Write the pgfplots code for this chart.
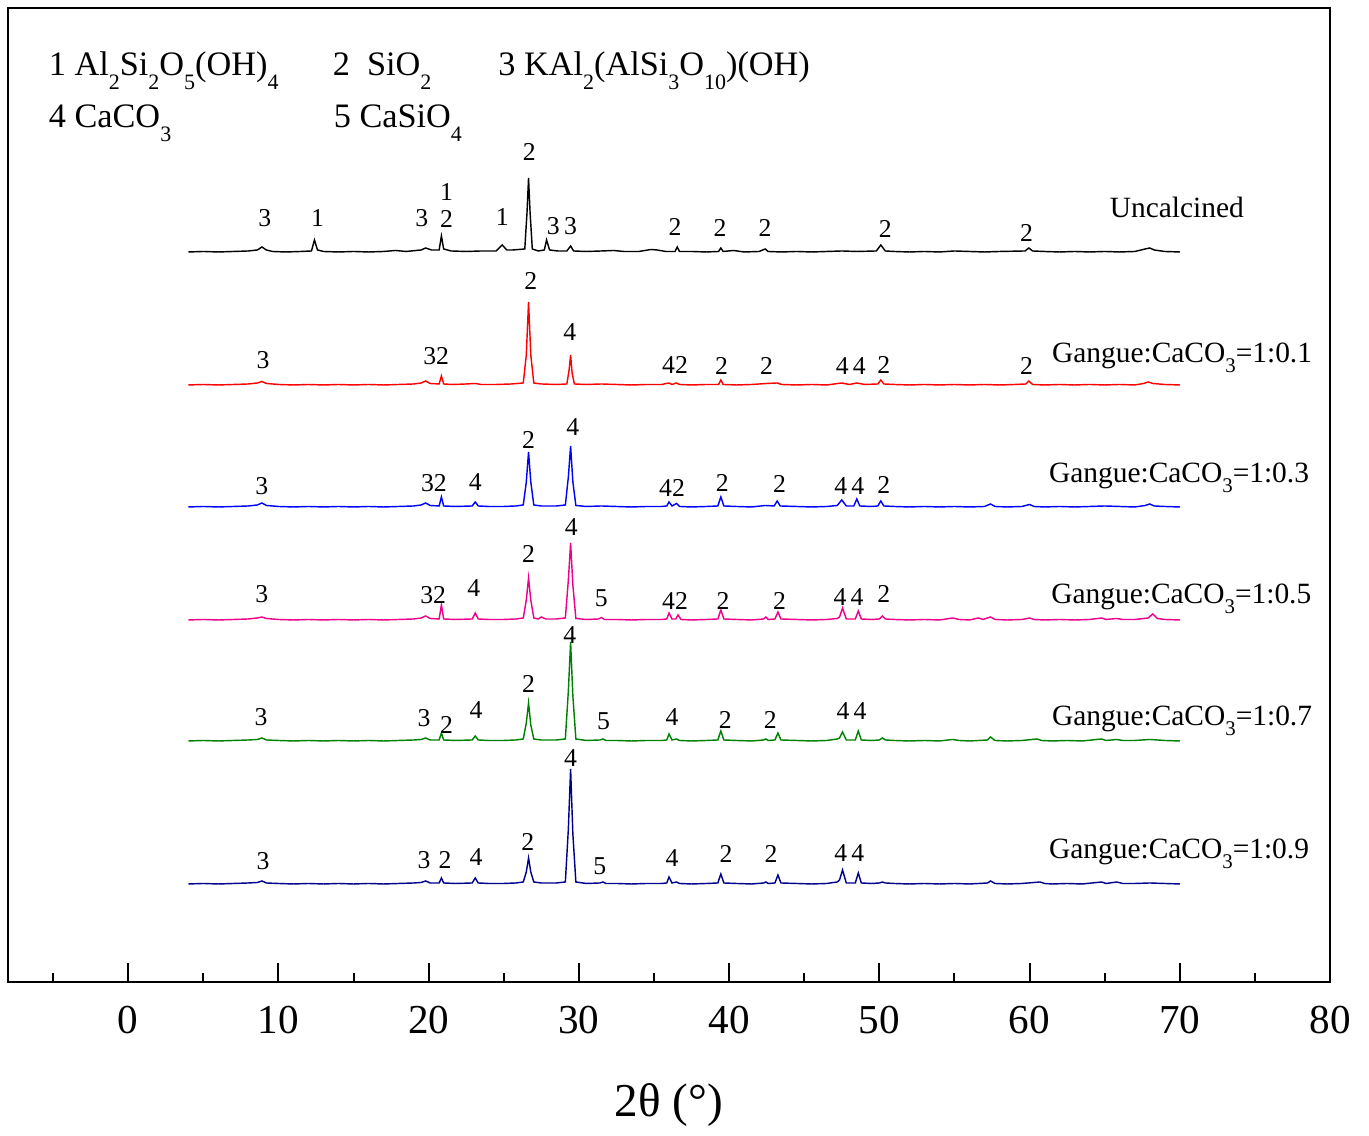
\documentclass[border=0pt]{standalone}
\usepackage{fontspec}
\setmainfont{Liberation Serif}
\usepackage{pgfplots}
\pgfplotsset{compat=1.18}
\usepackage{pgfplotstable}

\definecolor{cgreen}{RGB}{0,128,0}
\definecolor{cnavy}{RGB}{0,0,140}
\newcommand\lsub[1]{\raisebox{-4.9pt}{\fontsize{7.7}{7.7}\selectfont #1}}
\newcommand\gsub[1]{\raisebox{-3.5pt}{\fontsize{7.3}{7.3}\selectfont #1}}
\tikzset{
  pk/.style={font=\fontsize{9}{9}\selectfont, inner sep=0pt, anchor=center},
  lb/.style={font=\fontsize{10.3}{10.3}\selectfont, inner sep=0pt, anchor=base},
  lg/.style={font=\fontsize{12}{12}\selectfont, inner sep=0pt, anchor=base west},
}

\pgfplotstableread{
x I
4 0
5 0.5
6 0
7 0.5
8 1
8.6 2
8.9 5
9.2 2
9.6 0.5
10.5 0
11.5 0.5
12.2 1
12.4 12
12.6 2
13 0.5
14 0
15 0.5
16 0
17 0.5
17.8 1.5
18.5 0.5
19.5 2
19.8 4
20.2 2
20.7 2
20.85 16
21.0 3
21.5 1
22.5 0.5
23.5 1
24.5 1
24.9 7
25.2 2
25.6 2
26.4 3
26.55 40
26.65 74
26.75 40
26.9 3
27.3 1
27.7 2
27.85 12
28.05 2
28.6 1
29.2 1
29.45 6
29.65 1
30.5 0.5
31.5 1
32.3 1.5
33 0.5
34 0.5
34.8 2.5
35.2 2
35.8 0.5
36.4 0.5
36.55 5
36.7 0.5
37.5 0.5
38.5 0
39.3 0.5
39.45 4
39.6 0.5
40.3 1.5
41 0
42 0.5
42.4 3
42.6 0.5
43.5 0
44.5 0.5
45.5 0
46.5 0.5
47.5 1
48.5 0.5
49.8 1
50.1 7
50.4 1
51 0.5
52 0
53 0.5
54 0
55 1
56 0.5
57 0
58 0.5
59.7 1
59.95 4
60.2 1
61 0.5
62 0
63 0.5
64 0
65 0.5
66 0
67 0.5
67.7 3
68 4
68.3 2
69 0.5
70 0
}\uncal

\pgfplotstableread{
x I
4 0
5 0.5
6 0
7 0.5
8 1
8.6 2
8.9 3.5
9.2 1.5
10 0.5
11 0
12 0.5
13 0
14 0.5
15 0
16 0.5
17 0
18 0.5
19 1
19.5 2
19.8 4
20.1 1.5
20.7 1
20.85 9
21.0 1
21.6 0.5
22.5 1
23.1 1.5
23.5 0.5
24.5 0.5
25.5 1
26.3 2
26.5 30
26.65 83
26.8 30
27 2
27.5 1
28.5 0.5
29.2 1
29.35 15
29.45 30
29.55 12
29.7 1
30.5 0.5
31.5 1
32.5 0.5
33.5 0
34.5 0.5
35.5 0.5
36.0 2
36.2 0.5
36.5 2
36.7 0.5
37.5 0
38.5 0.5
39.3 0.5
39.45 5
39.6 0.5
40.5 0
41.5 0.5
42.5 1.5
43.2 2
43.5 0.5
44.5 0
45.5 0.5
46.5 0
47.5 2
48.0 0.5
48.5 2
49 0.5
49.9 1
50.1 5
50.3 1
51 0.5
52 0
53 0.5
54 0
55 0.5
56 0
57 0.5
58 0
59 0.5
59.75 1
59.95 4
60.2 0.5
61 0
62 0.5
63 0
64 0.5
65 0
66 0.5
67 0
67.6 1.5
67.9 3
68.2 1.5
69 0.5
70 0
}\cone

\pgfplotstableread{
x I
4 0
5 0.5
6 0
7 0.5
8 1
8.6 2
8.9 4
9.2 1.5
10 0.5
11 0
12 0.5
13 0
14 0.5
15 0
16 0.5
17 0
18 0.5
19 1
19.5 2
19.8 4
20.1 1.5
20.7 1
20.85 10
21.0 1
21.8 0.5
22.9 1
23.1 5
23.3 1
24 0.5
25 0.5
25.8 1
26.3 2
26.5 25
26.65 55
26.8 25
27 2
27.5 1
28.5 1
29.1 2
29.3 30
29.45 61
29.6 25
29.8 1.5
30.5 0.5
31.5 1
32.5 0.5
33.5 0
34.5 0.5
35.5 0.5
35.85 1
36.0 5
36.2 1
36.5 3.5
36.7 0.5
37.5 0
38.5 0.5
39.25 1
39.45 10
39.65 1
40.5 0.5
41.5 0
42.4 1.5
43 1
43.2 6
43.4 1
44.5 0.5
45.5 0
46.5 0.5
47.2 1.5
47.5 7
47.8 1
48.3 1
48.5 8
48.7 1
49.5 0.5
49.9 1
50.1 6
50.3 1
51 0.5
52 0
53 0.5
54 0
55 0.5
56 0
57 0.5
57.4 3
57.7 0.5
58.5 0
59.5 0.5
60 2.5
60.3 0.5
61 0
62 0.5
63 0
64 0.5
65 1
66 0.5
67 0
67.7 1.5
68 3
68.3 1
69 0.5
70 0
}\cthree

\pgfplotstableread{
x I
4 0
5 0.5
6 0
7 0.5
8 1
8.6 2
8.9 3
9.2 1.5
10 0.5
11 0
12 0.5
13 0
14 0.5
15 0
16 0.5
17 0
18 0.5
19 1
19.5 2
19.8 4
20.1 1.5
20.7 1
20.85 15
21.0 1
21.8 0.5
22.9 1
23.1 7
23.3 1
24 0.5
25 0.5
25.8 1
26.3 2
26.5 20
26.65 42
26.8 20
27 2
27.3 1
27.5 3
27.8 1
28.5 1
29.1 2
29.3 40
29.45 77
29.6 35
29.8 1.5
30.5 0.5
31.3 1
31.5 2.5
31.7 0.5
32.5 0.5
33.5 0
34.5 0.5
35.5 0.5
35.85 1
36.0 7
36.2 1
36.45 1
36.6 5
36.8 0.5
37.5 0
38.5 0.5
39.25 1
39.45 10
39.65 1
40.5 0.5
41.5 0
42.3 1
42.45 3
42.6 0.5
43.05 1
43.25 8
43.45 1
44.5 0.5
45.5 0
46.5 0.5
47.2 1.5
47.35 3
47.55 12
47.8 1
48.4 1
48.6 9
48.8 1
49.5 0.5
50 1
50.2 4
50.4 1
51 0.5
52 0
53 0.5
54 0
54.9 2
55.3 0.5
56 0
56.6 2
56.9 0.5
57.4 3
57.7 0.5
58.5 0
59.5 0.5
60 2
60.3 0.5
61 0
62 0.5
63 0
64 0.5
64.8 2
65.1 0.5
65.8 1.5
66.2 0.5
67 0.5
67.9 2
68.2 6
68.5 1.5
69 0.5
70 0
}\cfive

\pgfplotstableread{
x I
4 0
5 0.5
6 0
7 0.5
8 1
8.6 1.5
8.9 3
9.2 1
10 0.5
11 0
12 0.5
13 0
14 0.5
15 0
16 0.5
17 0
18 0.5
19 1
19.5 1.5
19.8 3
20.1 1
20.7 1
20.85 8
21.0 1
21.8 0.5
22.9 1
23.1 5
23.3 1
24 0.5
25 0.5
25.8 1
26.3 2
26.5 18
26.65 38
26.8 16
27 2
27.5 1
28.5 1
29.1 2
29.3 50
29.45 99
29.6 45
29.8 2
30.5 0.5
31.4 1
31.6 2
31.8 0.5
32.5 0.5
33.5 0
34.5 0.5
35.5 0.5
35.85 1
36.0 7
36.2 1
36.5 2
36.7 0.5
37.5 0
38.5 0.5
39.25 1
39.45 10
39.65 1
40.5 0.5
41.5 0
42.3 1
42.45 2
42.6 0.5
43.05 1
43.25 8
43.45 1
44.5 0.5
45.5 0
46.5 0.5
47.2 2
47.35 3
47.55 9
47.8 1
48.4 1
48.6 10
48.8 1
49.5 0.5
50 1
50.2 3
50.4 1
51 0.5
52 0
53 0.5
54 0
54.9 1.5
55.3 0.5
56 0
57.2 1
57.4 4
57.7 0.5
58.5 0
59.5 0.5
60.5 2
60.8 0.5
61.5 0
62.5 0.5
63.5 0
64.8 2
65.1 0.5
65.8 1.5
66.2 0.5
67 0.5
68 1.5
69 0.5
70 0
}\cseven

\pgfplotstableread{
x I
4 0
5 0.5
6 0
7 0.5
8 1
8.6 1.5
8.9 3
9.2 1
10 0.5
11 0
12 0.5
13 0
14 0.5
15 0
16 0.5
17 0
18 0.5
19 1
19.5 1.5
19.8 3
20.1 1
20.7 1
20.85 6
21.0 1
21.8 0.5
22.9 1
23.1 6
23.3 1
24 0.5
25 0.5
25.8 1
26.3 2
26.5 12
26.65 26
26.8 12
27 2
27.5 1
28.5 1
29.1 2
29.3 55
29.45 115
29.6 50
29.8 2
30.5 0.5
31.4 1
31.6 2
31.8 0.5
32.5 0.5
33.5 0
34.5 0.5
35.5 0.5
35.85 1
36.0 7
36.2 1
36.5 2
36.7 0.5
37.5 0
38.5 0.5
39.25 1
39.45 10
39.65 1
40.5 0.5
41.5 0
42.3 1
42.45 2
42.6 0.5
43.05 1
43.25 9
43.45 1
44.5 0.5
45.5 0
46.5 0.5
47.2 2
47.35 4
47.55 14
47.8 1
48.4 1
48.6 11
48.8 1
49.5 0.5
50 1
50.2 2
50.4 1
51 0.5
52 0
53 0.5
54 0
55 0.5
56 0
57.2 1
57.4 3
57.7 0.5
58.5 0
59.5 0.5
60.7 2
61 0.5
61.5 0
62.5 0.5
63.5 0
64.8 2
65.1 0.5
65.8 2
66.2 0.5
67 0.5
68 1
69 0.5
70 0
}\cnine

\begin{document}
\begin{tikzpicture}
\begin{axis}[
  scale only axis, width=462.7pt, height=340.9pt,
  xmin=-8, xmax=80, ymin=0, ymax=974,
  axis line style={line width=1pt},
  xtick={0,10,...,80}, minor xtick={-5,5,...,75},
  xtick pos=bottom, ytick=\empty,
  tick align=inside,
  major tick length=6.6pt, minor tick length=3.2pt,
  every tick/.style={black, line width=0.7pt},
  every minor tick/.style={black, line width=0.7pt},
  xticklabel style={font=\fontsize{14.4}{14.4}\selectfont, anchor=center, yshift=-13.3pt},
  /pgf/number format/assume math mode=true,
  xlabel={2θ (°)},
  xlabel style={font=\fontsize{16.5}{16.5}\selectfont, at={(axis description cs:0.5,0)}, anchor=center, yshift=-43pt},
  clip=false,
  every axis plot/.append style={line width=0.5pt},
]
\addplot[black, no markers] table[x=x, y expr=\thisrow{I}+730] {\uncal};
\addplot[red, no markers] table[x=x, y expr=\thisrow{I}+597] {\cone};
\addplot[blue, no markers] table[x=x, y expr=\thisrow{I}+475] {\cthree};
\addplot[magenta, no markers] table[x=x, y expr=\thisrow{I}+362] {\cfive};
\addplot[cgreen, no markers] table[x=x, y expr=\thisrow{I}+241] {\cseven};
\addplot[cnavy, no markers] table[x=x, y expr=\thisrow{I}+98] {\cnine};

% legend text
\node[lg] at (axis cs:-5.32,906) {1 Al\lsub{2}Si\lsub{2}O\lsub{5}(OH)\lsub{4}};
\node[lg] at (axis cs:13.58,906) {2\ \ SiO\lsub{2}};
\node[lg] at (axis cs:24.6,906) {3 KAl\lsub{2}(AlSi\lsub{3}O\lsub{10})(OH)};
\node[lg] at (axis cs:-5.32,854) {4 CaCO\lsub{3}};
\node[lg] at (axis cs:13.65,854) {5 CaSiO\lsub{4}};

% uncalcined
\node[pk] at (axis cs:9.1,764) {3};
\node[pk] at (axis cs:12.6,764) {1};
\node[pk] at (axis cs:19.55,764) {3};
\node[pk] at (axis cs:21.2,790) {1};
\node[pk] at (axis cs:21.2,763) {2};
\node[pk] at (axis cs:24.9,765) {1};
\node[pk] at (axis cs:26.7,830) {2};
\node[pk] at (axis cs:28.3,756) {3};
\node[pk] at (axis cs:29.45,756) {3};
\node[pk] at (axis cs:36.4,755) {2};
\node[pk] at (axis cs:39.4,754) {2};
\node[pk] at (axis cs:42.4,754) {2};
\node[pk] at (axis cs:50.4,753) {2};
\node[pk] at (axis cs:59.8,749) {2};
\node[lb] at (axis cs:69.8,764) {Uncalcined};

% 1:0.1
\node[pk] at (axis cs:8.98,622) {3};
\node[pk] at (axis cs:20.5,626) {32};
\node[pk] at (axis cs:26.8,701) {2};
\node[pk] at (axis cs:29.4,650) {4};
\node[pk] at (axis cs:36.4,617) {42};
\node[pk] at (axis cs:39.5,616) {2};
\node[pk] at (axis cs:42.5,616) {2};
\node[pk] at (axis cs:48.1,616) {4\,4};
\node[pk] at (axis cs:50.3,617) {2};
\node[pk] at (axis cs:59.8,616) {2};
\node[lb] at (axis cs:70.15,619) {Gangue:CaCO\gsub{3}=1:0.1};

% 1:0.3
\node[pk] at (axis cs:8.9,496) {3};
\node[pk] at (axis cs:20.35,499) {32};
\node[pk] at (axis cs:23.1,500) {4};
\node[pk] at (axis cs:26.65,542) {2};
\node[pk] at (axis cs:29.6,555) {4};
\node[pk] at (axis cs:36.2,494) {42};
\node[pk] at (axis cs:39.55,499) {2};
\node[pk] at (axis cs:43.35,498) {2};
\node[pk] at (axis cs:48.0,496) {4\,4};
\node[pk] at (axis cs:50.3,497) {2};
\node[lb] at (axis cs:69.95,499) {Gangue:CaCO\gsub{3}=1:0.3};

% 1:0.5
\node[pk] at (axis cs:8.9,388) {3};
\node[pk] at (axis cs:20.3,387) {32};
\node[pk] at (axis cs:23.0,394) {4};
\node[pk] at (axis cs:26.65,428) {2};
\node[pk] at (axis cs:29.5,455) {4};
\node[pk] at (axis cs:31.5,384) {5};
\node[pk] at (axis cs:36.4,381) {42};
\node[pk] at (axis cs:39.6,381) {2};
\node[pk] at (axis cs:43.35,381) {2};
\node[pk] at (axis cs:47.95,385) {4\,4};
\node[pk] at (axis cs:50.3,388) {2};
\node[lb] at (axis cs:70.1,378) {Gangue:CaCO\gsub{3}=1:0.5};

% 1:0.7
\node[pk] at (axis cs:8.85,265) {3};
\node[pk] at (axis cs:19.7,264) {3};
\node[pk] at (axis cs:21.2,257) {2};
\node[pk] at (axis cs:23.15,272) {4};
\node[pk] at (axis cs:26.65,298) {2};
\node[pk] at (axis cs:29.4,347) {4};
\node[pk] at (axis cs:31.65,261) {5};
\node[pk] at (axis cs:36.2,265) {4};
\node[pk] at (axis cs:39.75,262) {2};
\node[pk] at (axis cs:42.75,262) {2};
\node[pk] at (axis cs:48.15,271) {4\,4};
\node[lb] at (axis cs:70.15,256) {Gangue:CaCO\gsub{3}=1:0.7};

% 1:0.9
\node[pk] at (axis cs:8.98,121) {3};
\node[pk] at (axis cs:19.7,122) {3};
\node[pk] at (axis cs:21.1,122) {2};
\node[pk] at (axis cs:23.15,125) {4};
\node[pk] at (axis cs:26.6,140) {2};
\node[pk] at (axis cs:29.45,224) {4};
\node[pk] at (axis cs:31.4,116) {5};
\node[pk] at (axis cs:36.2,124) {4};
\node[pk] at (axis cs:39.8,128) {2};
\node[pk] at (axis cs:42.8,128) {2};
\node[pk] at (axis cs:48.0,129) {4\,4};
\node[lb] at (axis cs:69.95,123) {Gangue:CaCO\gsub{3}=1:0.9};
\end{axis}
\path ([xshift=-2.8pt,yshift=-53.55pt]current axis.south west) rectangle ([xshift=13.65pt,yshift=2.8pt]current axis.north east);
\end{tikzpicture}
\end{document}
